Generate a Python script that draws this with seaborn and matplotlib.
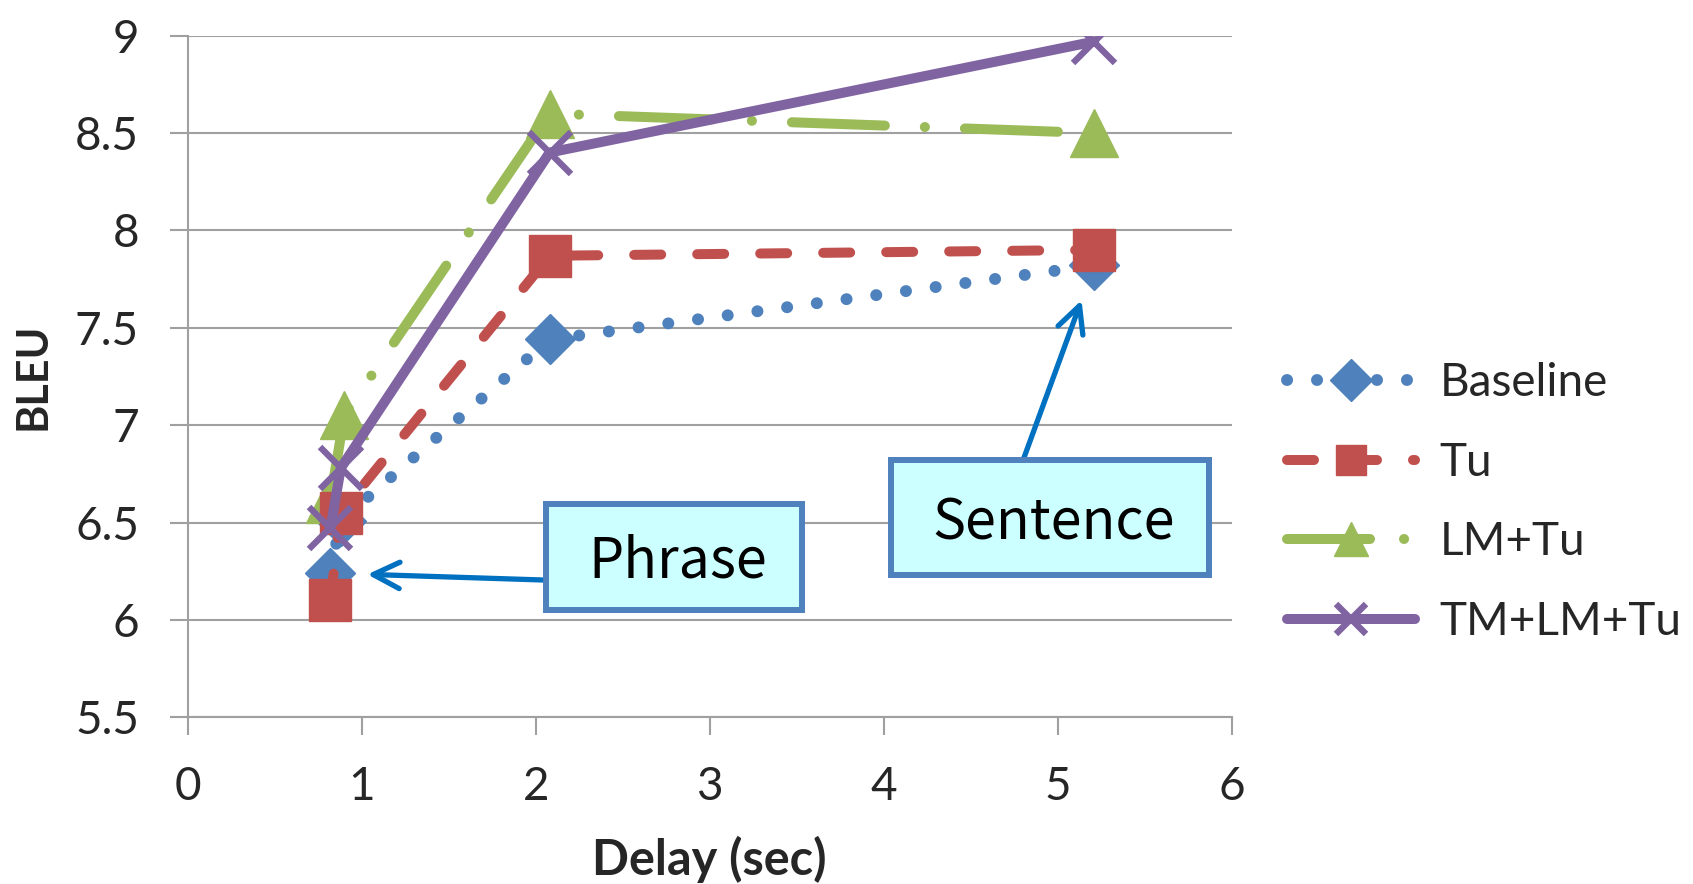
import matplotlib
matplotlib.use("Agg")
import matplotlib.pyplot as plt
from matplotlib.patches import Rectangle
import seaborn as sns
import pandas as pd

# BLEU score versus delay for each segmentation strategy
delay_baseline = [0.82, 0.88, 2.08, 5.21]
bleu_baseline = [6.24, 6.51, 7.44, 7.82]

delay_tu = [0.82, 0.88, 2.08, 5.21]
bleu_tu = [6.10, 6.55, 7.87, 7.90]

delay_lm_tu = [0.82, 0.90, 2.08, 5.21]
bleu_lm_tu = [6.62, 7.05, 8.60, 8.50]

delay_tm_lm_tu = [0.82, 0.88, 2.08, 5.21]
bleu_tm_lm_tu = [6.47, 6.78, 8.40, 8.97]

x_ticks = [0, 1, 2, 3, 4, 5, 6]
y_ticks = [5.5, 6, 6.5, 7, 7.5, 8, 8.5, 9]

sns.set_theme(style="white")
plt.rcParams["font.family"] = ["Lato", "DejaVu Sans"]

W, H, DPI = 1693, 884, 100
fig = plt.figure(figsize=(W / DPI, H / DPI), dpi=DPI)
ax = fig.add_axes([187.7 / W, 1 - 717.3 / H, (1231.7 - 187.7) / W, (717.3 - 35.7) / H])

blue, red, green, purple = "#4F81BD", "#C0504D", "#9BBB59", "#8064A2"
grid_gray = "#A0A0A0"

series = [
    dict(label="Baseline", x=delay_baseline, y=bleu_baseline, color=blue, marker="D",
         ms=25, lw=8.6, ls=(0, (0.01, 2.5)), z=3),
    dict(label="LM+Tu", x=delay_lm_tu, y=bleu_lm_tu, color=green, marker="^",
         ms=34, lw=7.2, ls=(0, (9.3, 4.0, 0.01, 4.0)), z=4),
    dict(label="Tu", x=delay_tu, y=bleu_tu, color=red, marker="s",
         ms=30, lw=7.2, ls=(0, (2.7, 3.6)), z=5),
    dict(label="TM+LM+Tu", x=delay_tm_lm_tu, y=bleu_tm_lm_tu, color=purple, marker="x",
         ms=30, lw=7.2, ls="-", z=6),
]

for s in series:
    df = pd.DataFrame({"delay": s["x"], "bleu": s["y"]})
    sns.lineplot(data=df, x="delay", y="bleu", ax=ax, sort=False, errorbar=None,
                 color=s["color"], marker=s["marker"], markersize=s["ms"],
                 markeredgecolor=s["color"], markerfacecolor=s["color"],
                 markeredgewidth=4.6 if s["marker"] == "x" else 1.0,
                 linewidth=s["lw"], linestyle=s["ls"],
                 dash_capstyle="round", solid_capstyle="round",
                 label=s["label"], zorder=s["z"])

ax.set_xlim(0, 6)
ax.set_ylim(5.5, 9)
ax.set_xticks(x_ticks)
ax.set_yticks(y_ticks)
ax.set_xticklabels([str(t) for t in x_ticks])
ax.set_yticklabels([f"{t:g}" for t in y_ticks])

ax.grid(axis="y", color=grid_gray, linewidth=1.5)
ax.grid(axis="x", visible=False)
for side in ("top", "right"):
    ax.spines[side].set_visible(False)
for side in ("left", "bottom"):
    ax.spines[side].set_color(grid_gray)
    ax.spines[side].set_linewidth(1.5)

ax.tick_params(axis="x", direction="out", length=13, width=1.5, color=grid_gray,
               pad=22, labelsize=33, bottom=True)
ax.tick_params(axis="y", direction="out", length=13, width=1.5, color=grid_gray,
               pad=22, labelsize=33, left=True)

ax.set_xlabel("Delay (sec)", fontsize=35, fontweight="bold", labelpad=20)
ax.set_ylabel("BLEU", fontsize=31, fontweight="bold", labelpad=16)

# legend to the right of the plot area
handles, labels = ax.get_legend_handles_labels()
order = ["Baseline", "Tu", "LM+Tu", "TM+LM+Tu"]
hmap = dict(zip(labels, handles))
leg = ax.legend([hmap[k] for k in order], order, loc="upper left",
                bbox_to_anchor=(1287 / W, 1 - 362 / H), bbox_transform=fig.transFigure,
                frameon=False, fontsize=33, handlelength=2.8, handletextpad=0.53,
                labelspacing=0.82, borderpad=0, borderaxespad=0, numpoints=1)
for h, ms in zip(leg.legend_handles, [21, 22, 25, 22]):
    h.set_markersize(ms)
# shorter dash cycle in the legend sample so the dot of the dash-dot line shows
leg.legend_handles[2].set_linestyle((0, (8.3, 3.4, 0.01, 3.4)))

# callout boxes
box_edge, box_face = "#4F81BD", "#CCFFFF"
boxes = [
    ("Phrase", (545.7, 503.7, 802.0, 609.7), (678, 577)),
    ("Sentence", (891.0, 459.7, 1208.7, 575.3), (1054, 540)),
]
for text, (x0, y0, x1, y1), (tx, ty) in boxes:
    fig.add_artist(Rectangle((x0 / W, 1 - y1 / H), (x1 - x0) / W, (y1 - y0) / H,
                             transform=fig.transFigure, facecolor=box_face,
                             edgecolor=box_edge, linewidth=4.3, zorder=5))
    fig.text(tx / W, 1 - ty / H, text, ha="center", va="baseline", fontsize=40,
             family=["Noto Sans CJK JP", "DejaVu Sans"], color="black", zorder=6)

# arrows from the callouts to the baseline points
arrow_kw = dict(arrowstyle="->,head_length=1.9,head_width=0.95", mutation_scale=10,
                color="#0070C0", linewidth=3.8, shrinkA=0, shrinkB=26.6)
ax.annotate("", xy=(delay_baseline[0], bleu_baseline[0]), xycoords="data",
            xytext=(543, H - 580), textcoords="figure pixels",
            arrowprops=arrow_kw, zorder=7)
ax.annotate("", xy=(delay_baseline[-1], bleu_baseline[-1]), xycoords="data",
            xytext=(1023.5, H - 459), textcoords="figure pixels",
            arrowprops=arrow_kw, zorder=7)

fig.savefig("out.png", dpi=DPI)
